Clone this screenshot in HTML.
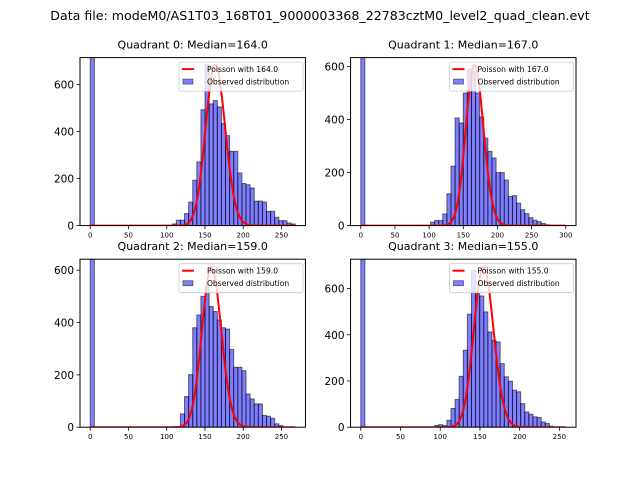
<!DOCTYPE html>
<html><head><meta charset="utf-8"><style>
body{margin:0;background:#fff}
svg{display:block;font-family:"DejaVu Sans","Liberation Sans",sans-serif}
</style></head><body>
<svg id="fig" width="640" height="480" xmlns="http://www.w3.org/2000/svg">
<rect width="640" height="480" fill="#fff"/>
<text x="320" y="20" font-size="12.6" text-anchor="middle">Data file: modeM0/AS1T03_168T01_9000003368_22783cztM0_level2_quad_clean.evt</text>
</svg>
<script>
// Quadrant metadata
const quadNames = ["Quadrant 0", "Quadrant 1", "Quadrant 2", "Quadrant 3"];
const medians = [164.0, 167.0, 159.0, 155.0];
const binWidths = [5.36, 6.0, 5.36, 5.16];
const dataMax = [268, 300, 268, 258];
const zeroBinCounts = [2000, 2000, 2000, 2000];
const poissonPeaks = [685, 606, 611, 694];
const yTicks = [0, 200, 400, 600];
const xTicksQ0 = [0, 50, 100, 150, 200, 250];
const xTicksQ1 = [0, 50, 100, 150, 200, 250, 300];
const xTicksQ2 = [0, 50, 100, 150, 200, 250];
const xTicksQ3 = [0, 50, 100, 150, 200, 250];
const yMaxes = [715, 634, 642, 727];
// bin counts starting at firstBin index
const firstBin = [20, 17, 22, 18];
const countsQ0 = [7,23,23,51,100,193,271,493,685,518,532,505,434,383,316,316,224,179,174,160,104,104,100,61,61,35,21,21,11,7];
const countsQ1 = [13,19,19,44,120,224,406,387,500,590,580,500,410,330,280,255,200,200,172,110,113,85,60,45,30,20,15,8,3];
const countsQ2 = [51,117,201,380,429,500,535,461,442,410,380,375,297,229,229,216,127,108,89,89,45,42,34,13,6];
const countsQ3 = [7,11,7,30,81,120,220,333,489,679,578,568,499,412,376,369,275,218,199,160,153,102,66,56,45,42,23,16,4];

const allCounts=[countsQ0,countsQ1,countsQ2,countsQ3];
const allXTicks=[xTicksQ0,xTicksQ1,xTicksQ2,xTicksQ3];
const NS="http://www.w3.org/2000/svg";
const svg=document.getElementById('fig');
function mk(tag,attrs,parent){const e=document.createElementNS(NS,tag);for(const k in attrs)e.setAttribute(k,attrs[k]);(parent||svg).appendChild(e);return e;}
function lgamma(z){
  if(z<7){let p=1;while(z<7){p*=z;z+=1;}return lgamma(z)-Math.log(p);}
  return (z-0.5)*Math.log(z)-z+0.5*Math.log(2*Math.PI)+1/(12*z)-1/(360*z*z*z);
}
function pmf(k,l){return Math.exp(k*Math.log(l)-l-lgamma(k+1));}

const boxes=[[80,57.6,225.45,168],[350.55,57.6,225.45,168],[80,259.2,225.45,168],[350.55,259.2,225.45,168]];
for(let q=0;q<4;q++){
  const [L,T,W,H]=boxes[q];
  const xmin=-0.05*dataMax[q], xmax=1.05*dataMax[q], ymax=yMaxes[q];
  const X=v=>L+(v-xmin)/(xmax-xmin)*W;
  const Y=v=>T+H-v/ymax*H;
  const g=mk('g',{});
  
  
  const cp=mk('clipPath',{id:'cp'+q},g);
  mk('rect',{x:L,y:T,width:W,height:H},cp);
  const bars=mk('g',{'clip-path':'url(#cp'+q+')'},g);
  const z=mk('rect',{x:X(0),y:Y(zeroBinCounts[q]),width:X(binWidths[q])-X(0),height:Y(0)-Y(zeroBinCounts[q]),fill:'rgba(0,0,255,0.5)',stroke:'rgba(0,0,0,0.55)','stroke-width':1},bars);
  
  
  const cs=allCounts[q];
  for(let i=0;i<cs.length;i++){
    const x0=(firstBin[q]+i)*binWidths[q];
    const r=mk('rect',{x:X(x0),y:Y(cs[i]),width:X(x0+binWidths[q])-X(x0),height:Y(0)-Y(cs[i]),fill:'rgba(0,0,255,0.5)',stroke:'rgba(0,0,0,0.55)','stroke-width':1},bars);
    
    
  }
  const lam=medians[q], sc=poissonPeaks[q]/pmf(lam,lam);
  let d='';
  for(let k=0;k<=dataMax[q];k++){d+=(k?'L':'M')+X(k).toFixed(2)+','+Y(pmf(k,lam)*sc).toFixed(2);}
  const pl=mk('path',{d:d,fill:'none',stroke:'#ff0000','stroke-width':2},bars);
  
  
  mk('rect',{x:L,y:T,width:W,height:H,fill:'none',stroke:'#000','stroke-width':1},g);
  const t=mk('text',{x:L+W/2,y:T-9,'font-size':11,'text-anchor':'middle'},g);
  t.textContent=quadNames[q]+': Median='+medians[q].toFixed(1);
  
  
  yTicks.forEach(v=>{
    if(v>ymax)return;
    mk('line',{x1:L,x2:L-3.5,y1:Y(v),y2:Y(v),stroke:'#000','stroke-width':0.8},g);
    const tt=mk('text',{x:L-6,y:Y(v)+4,'font-size':10.5,'text-anchor':'end'},g);
    tt.textContent=v;
    
    
  });
  allXTicks[q].forEach(v=>{
    mk('line',{x1:X(v),x2:X(v),y1:T+H,y2:T+H+3.5,stroke:'#000','stroke-width':0.8},g);
    const tt=mk('text',{x:X(v),y:T+H+12,'font-size':7,'text-anchor':'middle'},g);
    tt.textContent=v;
    
    
  });
  const lg=mk('g',{},g);
  
  
  const lx=L+W-126.5, ly=T+4.5;
  mk('rect',{x:lx,y:ly,width:124,height:29,rx:2,fill:'rgba(255,255,255,0.8)',stroke:'#ccc','stroke-width':0.8},lg);
  mk('line',{x1:lx+3,x2:lx+15,y1:ly+7,y2:ly+7,stroke:'#ff0000','stroke-width':2},lg);
  mk('rect',{x:lx+4,y:ly+17,width:10,height:5,fill:'rgba(0,0,255,0.5)',stroke:'rgba(0,0,0,0.55)','stroke-width':0.8},lg);
  const t1=mk('text',{x:lx+28,y:ly+10,'font-size':7.6},lg);
  t1.textContent='Poisson with '+medians[q].toFixed(1);
  
  
  const t2=mk('text',{x:lx+28,y:ly+22.5,'font-size':7.6},lg);
  t2.textContent='Observed distribution';
  
  
}
</script>
</body></html>
